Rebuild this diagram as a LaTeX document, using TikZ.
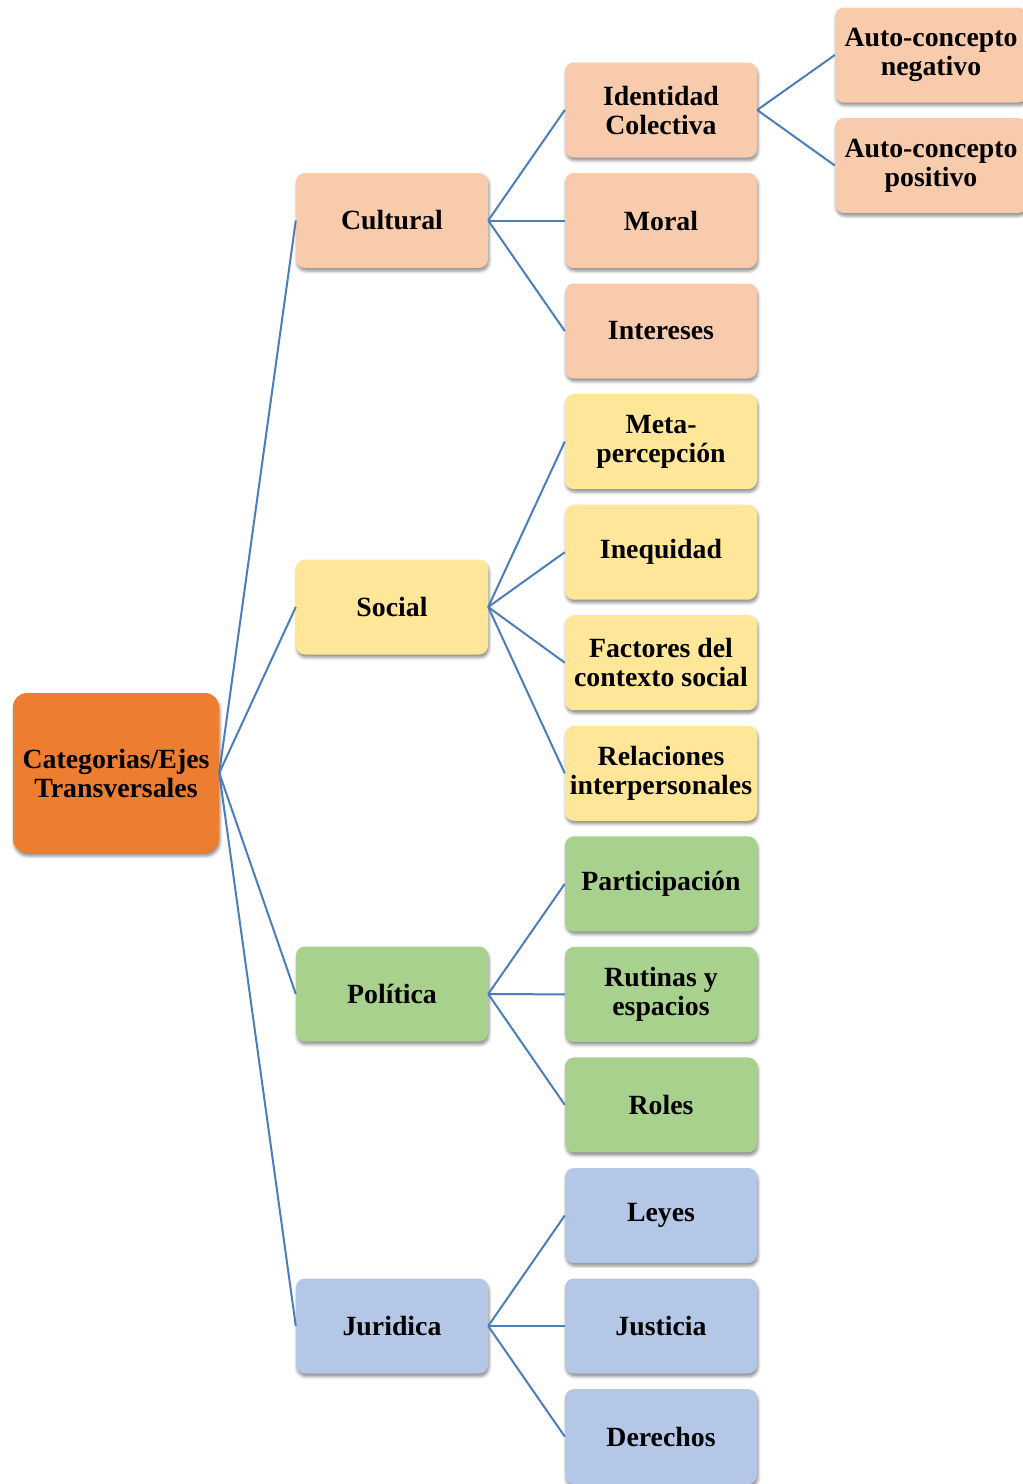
\documentclass[tikz,border=0pt]{standalone}
\usepackage{fontspec}
\setmainfont{Liberation Serif}
\usetikzlibrary{shadows.blur}
\definecolor{rootc}{HTML}{ED7D31}
\definecolor{peach}{HTML}{F8CBAD}
\definecolor{yel}{HTML}{FFE699}
\definecolor{grn}{HTML}{A9D18E}
\definecolor{blu}{HTML}{B4C7E7}
\definecolor{linec}{HTML}{4A7EBB}
\tikzset{
  box/.style={rounded corners=9pt, minimum width=192pt, minimum height=95pt, inner sep=2pt,
    align=center, font=\fontsize{27.8}{29}\selectfont\bfseries, text=black,
    blur shadow={shadow xshift=1pt, shadow yshift=-3pt, shadow blur radius=3pt, shadow opacity=45}},
  rootbox/.style={box, fill=rootc, minimum width=206pt, minimum height=160pt, rounded corners=14pt},
  pbox/.style={box, fill=peach},
  ybox/.style={box, fill=yel},
  gbox/.style={box, fill=grn},
  bbox/.style={box, fill=blu},
  conn/.style={draw=linec, line width=2pt}
}
\begin{document}
\begin{tikzpicture}[x=1pt,y=-1pt]
\useasboundingbox (0,0) rectangle (1023,1484);
\begin{scope}
\clip (0,0) rectangle (1023,1484);
\node[rootbox] (root) at (116,773) {Categorias/Ejes\\Transversales};
\node[pbox] (cul) at (392,220.5) {Cultural};
\node[ybox] (soc) at (392,607) {Social};
\node[gbox] (pol) at (392,994) {Política};
\node[bbox] (jur) at (392,1326) {Juridica};
\node[pbox] (ide) at (661,110) {Identidad\\Colectiva};
\node[pbox] (mor) at (661,220.5) {Moral};
\node[pbox] (int) at (661,331) {Intereses};
\node[ybox] (met) at (661,441.6) {Meta-\\percepción};
\node[ybox] (ine) at (661,552.2) {Inequidad};
\node[ybox] (fac) at (661,662.7) {Factores del\\contexto social};
\node[ybox] (rel) at (661,773.3) {Relaciones\\interpersonales};
\node[gbox] (par) at (661,883.8) {Participación};
\node[gbox] (rut) at (661,994.4) {Rutinas y\\espacios};
\node[gbox] (rol) at (661,1104.9) {Roles};
\node[bbox] (ley) at (661,1215.5) {Leyes};
\node[bbox] (jus) at (661,1326) {Justicia};
\node[bbox] (der) at (661,1436.6) {Derechos};
\node[pbox] (neg) at (931,55) {Auto-concepto\\negativo};
\node[pbox] (pos) at (931,165.5) {Auto-concepto\\positivo};
\end{scope}
\foreach \t in {cul,soc,pol,jur} \draw[conn] (root.east) -- (\t.west);
\foreach \t in {ide,mor,int} \draw[conn] (cul.east) -- (\t.west);
\foreach \t in {met,ine,fac,rel} \draw[conn] (soc.east) -- (\t.west);
\foreach \t in {par,rut,rol} \draw[conn] (pol.east) -- (\t.west);
\foreach \t in {ley,jus,der} \draw[conn] (jur.east) -- (\t.west);
\foreach \t in {neg,pos} \draw[conn] (ide.east) -- (\t.west);
\end{tikzpicture}
\end{document}
